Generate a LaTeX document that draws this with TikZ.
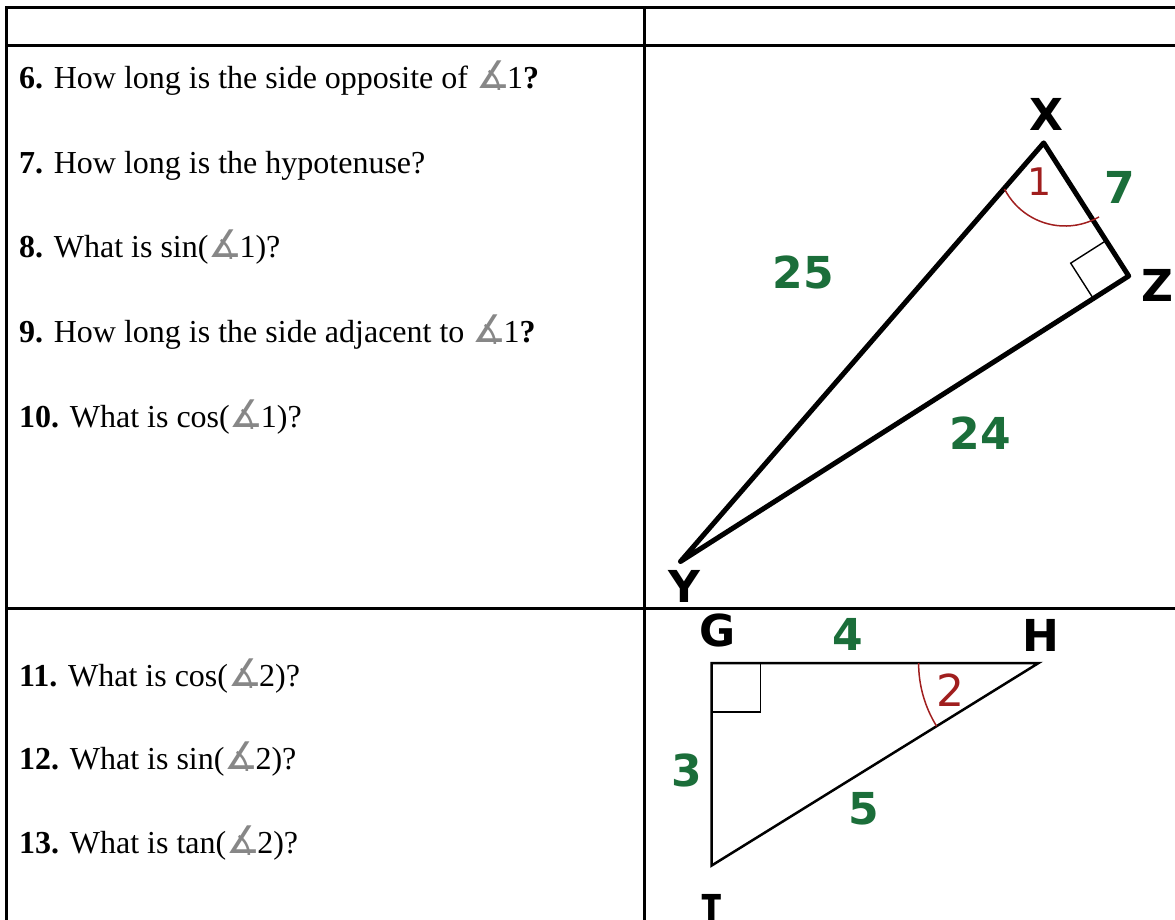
\documentclass[tikz,border=0pt]{standalone}
\usepackage{fontspec}
\setmainfont{Liberation Serif}
\newfontfamily\labfont{DejaVu Sans}
\newfontfamily\labmono{DejaVu Sans Mono}
\usetikzlibrary{calc}
\definecolor{lblgreen}{RGB}{27,110,58}
\definecolor{angred}{RGB}{160,30,30}
\definecolor{anggray}{RGB}{135,135,135}
\newcommand{\angsym}{{\labfont\color{anggray}\fontsize{38}{38}\selectfont ∡}\kern-3pt}
\begin{document}
\begin{tikzpicture}[x=1pt,y=-1pt,
  q/.style={anchor=base west, inner sep=0pt, font=\fontsize{32}{38}\selectfont},
  vlab/.style={font=\labfont\bfseries\fontsize{44}{44}\selectfont, inner sep=0pt},
  slab/.style={vlab, text=lblgreen},
  alab/.style={font=\labfont\fontsize{38}{38}\selectfont, text=angred, inner sep=0pt},
  gridline/.style={line width=3pt},
  triA/.style={line width=5pt, line join=round},
  triB/.style={line width=2.5pt, line join=miter},
  rbox/.style={line width=1.4pt},
  arcline/.style={line width=1.5pt, draw=angred}]
\useasboundingbox (0,0) rectangle (1175,920);
% table grid
\coordinate (gTL) at (6.5,6.5);
\coordinate (gBL) at (6.5,920);
\coordinate (gTR) at (1175,8);
\coordinate (gTLh) at (5,8);
\coordinate (gH1L) at (5,45.5);
\coordinate (gH1R) at (1175,45.5);
\coordinate (gH2L) at (5,608);
\coordinate (gH2R) at (1175,608);
\coordinate (gMT) at (644,8);
\coordinate (gMB) at (644,920);
\draw[gridline] (gTL) -- (gBL);
\draw[gridline] (gTLh) -- (gTR);
\draw[gridline] (gH1L) -- (gH1R);
\draw[gridline] (gH2L) -- (gH2R);
\draw[gridline] (gMT) -- (gMB);
% questions
\node[q] (q6) at (19,89) {\textbf{6.} How long is the side opposite of \angsym1\textbf{?}};
\node[q] (q7) at (19,173.5) {\textbf{7.} How long is the hypotenuse?};
\node[q] (q8) at (19,258) {\textbf{8.} What is sin(\angsym1)?};
\node[q] (q9) at (19,342.5) {\textbf{9.} How long is the side adjacent to \angsym1\textbf{?}};
\node[q] (q10) at (19,427) {\textbf{10.} What is cos(\angsym1)?};
\node[q] (q11) at (19,686) {\textbf{11.} What is cos(\angsym2)?};
\node[q] (q12) at (19,769.5) {\textbf{12.} What is sin(\angsym2)?};
\node[q] (q13) at (19,853) {\textbf{13.} What is tan(\angsym2)?};
% triangle XYZ
\coordinate (X) at (1043.7,142.9);
\coordinate (Z) at (1128.7,276);
\coordinate (Y) at (680.5,561.5);
\draw[triA] (X) -- (Z) -- (Y) -- cycle;
\draw[rbox] ($(Z)!42pt!(X)$) -- ($($(Z)!42pt!(X)$)+($(Z)!42pt!(Y)$)-(Z)$) -- ($(Z)!42pt!(Y)$);
\draw[arcline] (1004.5,189) arc[start angle=152.9, end angle=60, radius=68];
\node[vlab] (lX) at (1046,114) {X};
\node[vlab] (lY) at (684,586) {Y};
\node[vlab] (lZ) at (1157,285) {Z};
\node[slab] (l7) at (1120,187) {7};
\node[slab] (l25) at (803,272) {25};
\node[slab] (l24) at (980,433) {24};
\node[alab] (l1) at (1040,182) {1};
% triangle GHI
\coordinate (G) at (711.7,663);
\coordinate (H) at (1038.6,663);
\coordinate (I) at (711.7,865.5);
\draw[triB] (G) -- (H) -- (I) -- cycle;
\draw[rbox] ($(G)!49pt!(H)$) -- ($($(G)!49pt!(H)$)+($(G)!49pt!(I)$)-(G)$) -- ($(G)!49pt!(I)$);
\draw[arcline] ($(H)+(-120,0)$) arc[start angle=180, end angle=148.2, radius=120];
\node[vlab] (lG) at (718,630) {G};
\node[vlab] (lH) at (1041,635) {H};
\node[vlab, font=\labmono\bfseries\fontsize{44}{44}\selectfont] (lI) at (712,910) {I};
\node[slab] (l4) at (848,634) {4};
\node[slab] (l3) at (687,770) {3};
\node[slab] (l5) at (864,809) {5};
\node[alab, font=\labfont\fontsize{44}{44}\selectfont] (l2) at (950,690) {2};
\end{tikzpicture}
\end{document}
